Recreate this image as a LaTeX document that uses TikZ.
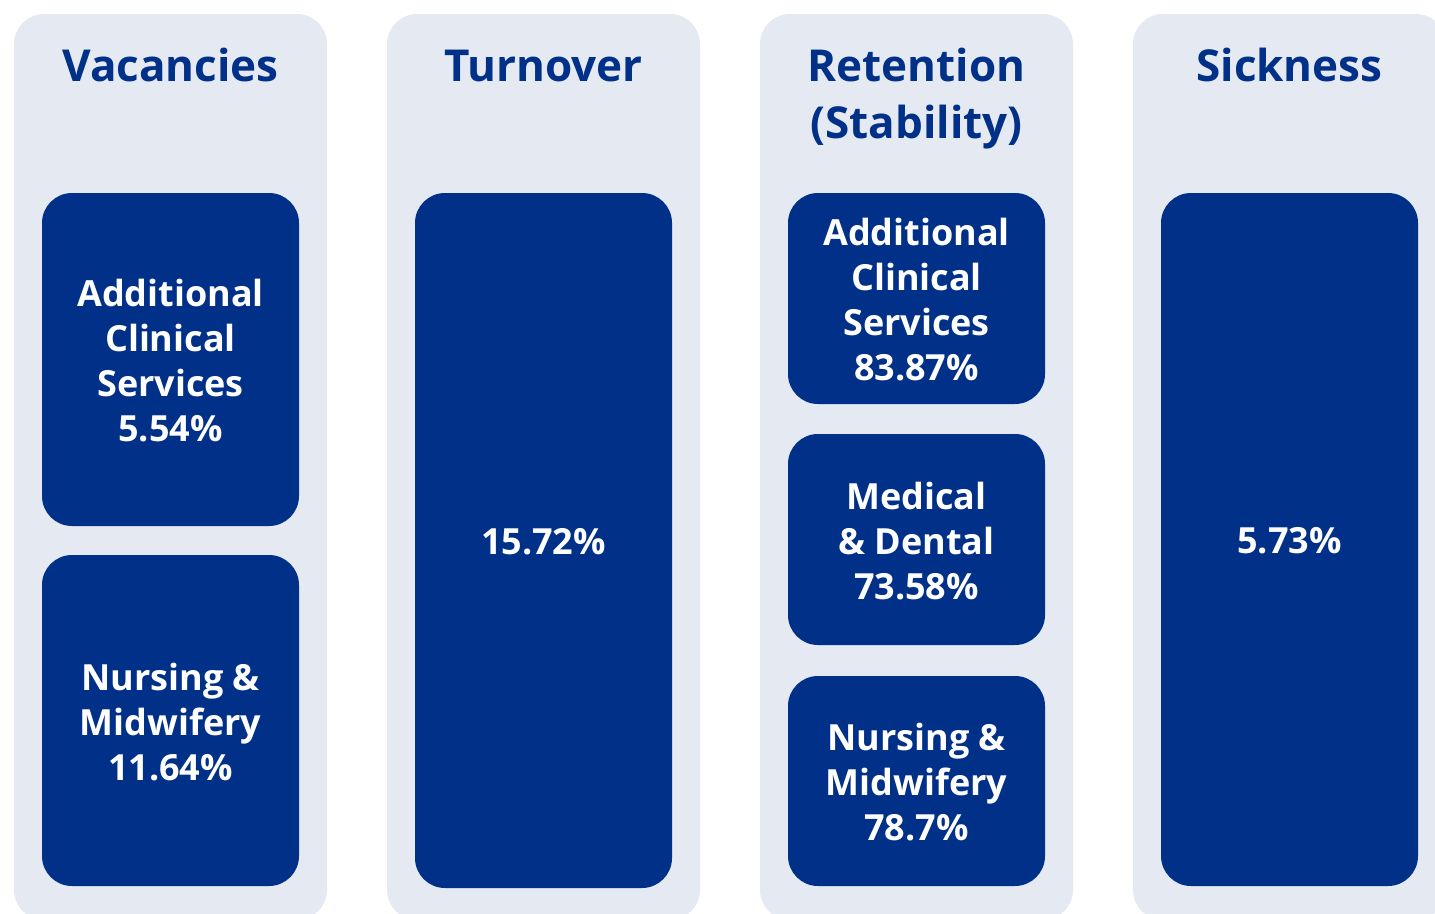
\documentclass[tikz,border=0pt]{standalone}
\usepackage{fontspec}
\setmainfont{Open Sans}
\definecolor{colbg}{HTML}{E4E9F2}
\definecolor{nhsblue}{HTML}{003087}
\begin{document}
\begin{tikzpicture}[x=1pt,y=-1pt,
  column/.style={fill=colbg, rounded corners=30pt},
  box/.style={fill=nhsblue, rounded corners=30pt},
  title/.style={text=nhsblue, font=\bfseries\fontsize{44}{57}\selectfont, align=center, anchor=base},
  val/.style={text=white, font=\bfseries\fontsize{36}{45}\selectfont, align=center},
]
\useasboundingbox (0,0) rectangle (1435,913);
\begin{scope}
\clip (0,0) rectangle (1435,913);
\foreach \x/\n in {14/c1,387/c2,760/c3,1133/c4}{
  \fill[column] (\x,14) rectangle ++(313,906);
}
\end{scope}
% Vacancies
\node[title] (t1) at (170.5,81) {Vacancies};
\fill[box] (42,193) rectangle (299,526);
\node[val] (v1) at (170.5,361) {Additional\\Clinical\\Services\\5.54\%};
\fill[box] (42,555) rectangle (299,886);
\node[val] (v2) at (170.5,722) {Nursing \&\\Midwifery\\11.64\%};
% Turnover
\node[title] (t2) at (543.5,81) {Turnover};
\fill[box] (415,193) rectangle (672,888);
\node[val] (v3) at (543.5,542) {15.72\%};
% Retention
\node[title] (t3) at (916.5,138) {Retention\\(Stability)};
\fill[box] (788,193) rectangle (1045,404);
\node[val] (v4) at (916.5,300) {Additional\\Clinical\\Services\\83.87\%};
\fill[box] (788,434) rectangle (1045,645);
\node[val] (v5) at (916.5,541) {Medical\\\& Dental\\73.58\%};
\fill[box] (788,676) rectangle (1045,886);
\node[val] (v6) at (916.5,782) {Nursing \&\\Midwifery\\78.7\%};
% Sickness
\node[title] (t4) at (1289.5,81) {Sickness};
\fill[box] (1161,193) rectangle (1418,886);
\node[val] (v7) at (1289.5,541) {5.73\%};
\end{tikzpicture}
\end{document}
